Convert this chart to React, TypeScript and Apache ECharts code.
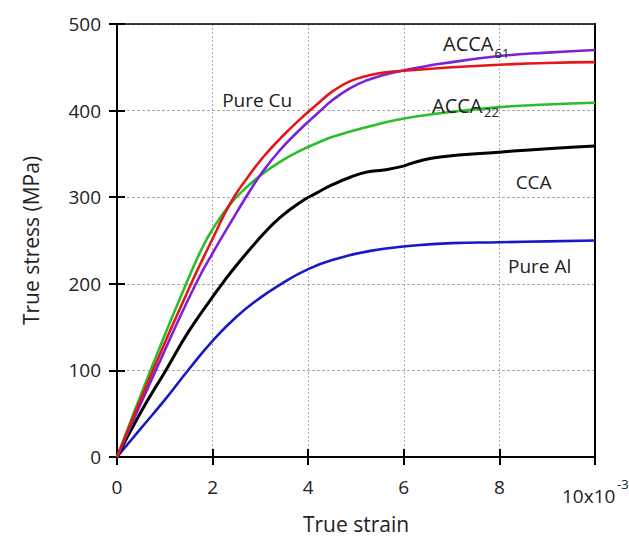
import React, { useEffect, useRef } from "react";
import * as echarts from "echarts";

const xTicks = [0, 2, 4, 6, 8, 10];
const yTicks = [0, 100, 200, 300, 400, 500];

const pureCu = [[0,0],[0.75,100],[1.55,200],[2,252],[2.37,293],[2.72,322],[3.07,347],[3.42,368],[3.77,387],[4.18,407],[4.53,423],[4.88,434],[5.23,440],[5.58,444],[6,446],[7,450],[8,453],[9,455],[10,456]];
const acca61 = [[0,0],[0.81,100],[1.65,200],[2.07,242],[2.37,270],[2.72,302],[3.07,331],[3.42,355],[3.77,375],[4.18,396],[4.53,413],[4.88,426],[5.23,435],[5.58,441],[5.92,445.5],[6.34,450],[6.76,454],[8,463],[9,467],[10,470]];
const acca22 = [[0,0],[0.7,100],[1.5,207],[1.77,240],[2,263],[2.37,292],[2.72,312],[3.07,328],[3.42,341],[3.77,352],[4.25,364],[4.53,370],[5.23,381],[5.92,390],[6.76,397],[8,404],[9,407],[10,409]];
const cca = [[0,0],[0.5,52],[1.02,100],[1.5,145],[2,185],[2.2,200],[2.48,220],[3.07,258],[3.42,277],[3.83,294],[4.18,305],[4.53,315],[4.88,323],[5.23,329],[5.58,331.5],[5.92,335],[6.27,341],[6.76,346.5],[8,352],[9,356],[10,359]];
const pureAl = [[0,0],[0.5,33],[1,66],[1.5,101],[2,134],[2.5,162],[3,184],[3.38,198],[4,217],[4.6,229],[5.3,238],[6,243],[7,247],[8,248],[9,249],[10,250]];

const seriesNames = ["Pure Cu", "ACCA61", "ACCA22", "CCA", "Pure Al"];
const seriesData = [pureCu, acca61, acca22, cca, pureAl];
const seriesColors = ["#e3161b", "#7b22d8", "#2bbd2b", "#000000", "#1818c8"];

// annotation anchors in data coords: [text, x, y, fontSize]
const annotations: [string, number, number, number][] = [
  ["Pure Cu", 2.2, 412, 19],
  ["ACCA", 6.82, 478, 20],
  ["61", 7.9, 467, 13],
  ["ACCA", 6.59, 406, 20],
  ["22", 7.68, 398, 13],
  ["CCA", 8.34, 317, 19],
  ["Pure Al", 8.18, 221, 19],
];

const FONT = "'Open Sans', 'Noto Sans', sans-serif";

export default function App() {
  const ref = useRef<HTMLDivElement>(null);
  useEffect(() => {
    if (!ref.current) return;
    const chart = echarts.init(ref.current, null, { renderer: "svg" });
    const axisBase = { min: xTicks[0], max: xTicks[xTicks.length - 1], interval: 2 };
    const yBase = { min: yTicks[0], max: yTicks[yTicks.length - 1], interval: 100 };
    chart.setOption({
      animation: false,
      textStyle: { fontFamily: FONT },
      grid: { left: 117, right: 34, top: 24, bottom: 77, containLabel: false },
      xAxis: [
        {
          type: "value", ...axisBase, position: "bottom",
          name: "True strain", nameLocation: "middle", nameGap: 56,
          nameTextStyle: { fontSize: 21, color: "#222", fontFamily: FONT },
          axisLine: { show: true, onZero: false, lineStyle: { color: "#000", width: 2 } },
          axisTick: { show: true, inside: false, length: 8, lineStyle: { color: "#000", width: 2 } },
          axisLabel: { margin: 20, fontSize: 19, color: "#222", fontFamily: FONT,
            formatter: (v: number) => (v === 10 ? "" : String(v)) },
          splitLine: { show: true, lineStyle: { color: "#aaa", type: [2, 2], width: 1 } },
        },
        {
          type: "value", ...axisBase, position: "bottom",
          axisLine: { show: false },
          axisTick: { show: true, inside: true, length: 8, lineStyle: { color: "#000", width: 2 } },
          axisLabel: { show: false }, splitLine: { show: false },
        },
        {
          type: "value", ...axisBase, position: "top",
          axisLine: { show: true, onZero: false, lineStyle: { color: "#000", width: 1.5 } },
          axisTick: { show: false }, axisLabel: { show: false }, splitLine: { show: false },
        },
      ],
      yAxis: [
        {
          type: "value", ...yBase, position: "left",
          name: "True stress (MPa)", nameLocation: "middle", nameGap: 76,
          nameTextStyle: { fontSize: 21, color: "#222", fontFamily: FONT },
          axisLine: { show: true, onZero: false, lineStyle: { color: "#000", width: 2 } },
          axisTick: { show: true, inside: false, length: 8, lineStyle: { color: "#000", width: 2 } },
          axisLabel: { margin: 16, fontSize: 19, color: "#222", fontFamily: FONT },
          splitLine: { show: true, lineStyle: { color: "#aaa", type: [3, 2], width: 1 } },
        },
        {
          type: "value", ...yBase, position: "left",
          axisLine: { show: false },
          axisTick: { show: true, inside: true, length: 8, lineStyle: { color: "#000", width: 2 } },
          axisLabel: { show: false }, splitLine: { show: false },
        },
        {
          type: "value", ...yBase, position: "right",
          axisLine: { show: true, onZero: false, lineStyle: { color: "#000", width: 2 } },
          axisTick: { show: false }, axisLabel: { show: false }, splitLine: { show: false },
        },
      ],
      series: seriesData.map((d, i) => ({
        type: "line",
        name: seriesNames[i],
        data: d,
        xAxisIndex: 0,
        yAxisIndex: 0,
        smooth: 0.5,
        showSymbol: false,
        symbol: "none",
        lineStyle: { color: seriesColors[i], width: i === 3 ? 3 : 2.6 },
        z: 5 - i,
      })),
    });

    const graphics: any[] = annotations.map(([t, x, y, fs]) => {
      const p = chart.convertToPixel({ gridIndex: 0 }, [x, y]) as number[];
      return {
        type: "text", x: p[0], y: p[1], z: 10,
        style: { text: t, fontSize: fs, fontFamily: FONT, fill: "#222", align: "left", verticalAlign: "middle" },
      };
    });
    const p10 = chart.convertToPixel({ gridIndex: 0 }, [10, 0]) as number[];
    graphics.push({
      type: "text", x: p10[0] - 33, y: p10[1] + 39, z: 10,
      style: { text: "10x10", fontSize: 19, fontFamily: FONT, fill: "#222", align: "left", verticalAlign: "middle" },
    });
    graphics.push({
      type: "text", x: p10[0] + 22, y: p10[1] + 27, z: 10,
      style: { text: "-3", fontSize: 13, fontFamily: FONT, fill: "#222", align: "left", verticalAlign: "middle" },
    });
    chart.setOption({ graphic: graphics });

    return () => chart.dispose();
  }, []);
  return (
    <div
      ref={ref}
      style={{ position: "fixed", left: 0, top: 0, width: 629, height: 539, background: "#fff" }}
    />
  );
}
